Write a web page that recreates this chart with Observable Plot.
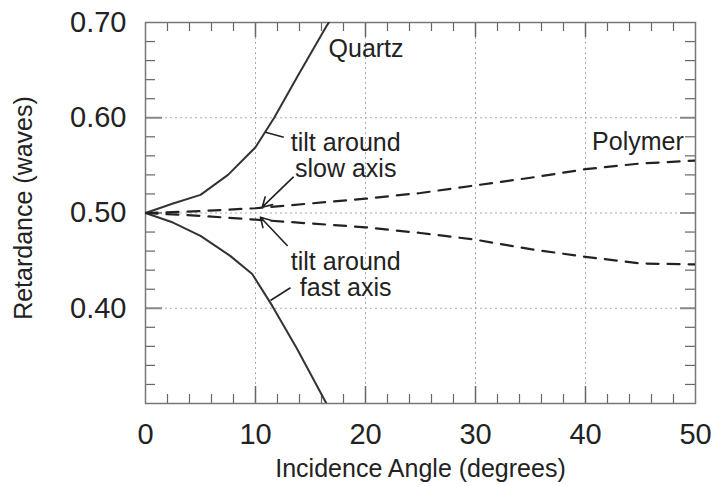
<!DOCTYPE html>
<html>
<head>
<meta charset="utf-8">
<script src="https://cdn.jsdelivr.net/npm/d3@7"></script>
<script src="https://cdn.jsdelivr.net/npm/@observablehq/plot@0.6"></script>
<style>
  html, body { margin: 0; padding: 0; background: #fff; }
  svg { display: block; }
</style>
</head>
<body>
<div id="chart"></div>
<script>
// ---- data ----
const quartzSlowAngle = [0, 2.5, 5, 7.5, 10, 11.7, 13.8, 16.5, 17];
const quartzSlowRet   = [0.500, 0.510, 0.519, 0.540, 0.569, 0.600, 0.643, 0.697, 0.706];
const quartzFastAngle = [0, 2.5, 5, 7.7, 9.7, 11.5, 13.8, 16.4, 16.8];
const quartzFastRet   = [0.500, 0.490, 0.476, 0.455, 0.436, 0.403, 0.357, 0.301, 0.294];
const polymerAngle    = [0, 5, 10, 15, 20, 25, 30, 35, 40, 45, 50];
const polymerSlowRet  = [0.500, 0.502, 0.505, 0.510, 0.515, 0.521, 0.529, 0.537, 0.546, 0.552, 0.555];
const polymerFastRet  = [0.500, 0.497, 0.493, 0.489, 0.485, 0.479, 0.472, 0.462, 0.454, 0.447, 0.446];

const xTicks = [0, 10, 20, 30, 40, 50];
const xMinorTicks = [2, 4, 6, 8, 12, 14, 16, 18, 22, 24, 26, 28, 32, 34, 36, 38, 42, 44, 46, 48];
const xGrid = [10, 20, 30, 40];
const yTicks = [0.40, 0.50, 0.60, 0.70];
const yTickLabels = ["0.40", "0.50", "0.60", "0.70"];
const yMinorTicks = [0.32, 0.34, 0.36, 0.38, 0.42, 0.44, 0.46, 0.48, 0.52, 0.54, 0.56, 0.58, 0.62, 0.64, 0.66, 0.68];
const yGrid = [0.40, 0.50, 0.60];

// single-line annotations (left-anchored, data coordinates)
const noteText  = ["Quartz", "Polymer"];
const noteAngle = [16.64, 40.6];
const noteRet   = [0.6717, 0.5743];

// two-line annotations (centred, data coordinates)
const blockText  = ["tilt around\nslow axis", "tilt around\nfast axis"];
const blockAngle = [18.2, 18.2];
const blockRet   = [0.5604, 0.4352];

const leaderX1 = [10.91, 13.18];
const leaderY1 = [0.5848, 0.4215];
const leaderX2 = [12.57, 11.36];
const leaderY2 = [0.5796, 0.4081];

const arrowX1 = [13.43, 12.88];
const arrowY1 = [0.5376, 0.4659];
const arrowX2 = [10.61, 10.45];
const arrowY2 = [0.5061, 0.4956];

// ---- build tables ----
const toRows = (xs, ys) => xs.map((x, i) => ({x, y: ys[i]}));
const qSlow = toRows(quartzSlowAngle, quartzSlowRet);
const qFast = toRows(quartzFastAngle, quartzFastRet);
const pSlow = toRows(polymerAngle, polymerSlowRet);
const pFast = toRows(polymerAngle, polymerFastRet);
const notes = noteText.map((t, i) => ({t, x: noteAngle[i], y: noteRet[i]}));
const blocks = blockText.map((t, i) => ({t, x: blockAngle[i], y: blockRet[i]}));
const leaders = leaderX1.map((d, i) => ({x1: d, y1: leaderY1[i], x2: leaderX2[i], y2: leaderY2[i]}));
const arrows = arrowX1.map((d, i) => ({x1: d, y1: arrowY1[i], x2: arrowX2[i], y2: arrowY2[i]}));

const W = 715, H = 486;
const mL = 145, mR = 20, mT = 22, mB = 83;
const innerW = W - mL - mR, innerH = H - mT - mB;
const font = "'Liberation Sans', Arial, Helvetica, sans-serif";
const ink = "#222";
const tickColor = "#666";

const chart = Plot.plot({
  width: W,
  height: H,
  marginLeft: mL,
  marginRight: mR,
  marginTop: mT,
  marginBottom: mB,
  style: {fontFamily: font, color: ink, background: "#fff"},
  x: {domain: [0, 50]},
  y: {domain: [0.30, 0.70]},
  marks: [
    // grid
    Plot.ruleX(xGrid, {stroke: "#aaa", strokeWidth: 1, strokeDasharray: "2,3"}),
    Plot.ruleY(yGrid, {stroke: "#aaa", strokeWidth: 1, strokeDasharray: "2,3"}),
    // minor ticks (bottom, top, left, right)
    Plot.ruleX(xMinorTicks, {stroke: tickColor, strokeWidth: 1.2, insetTop: innerH - 9}),
    Plot.ruleX(xMinorTicks, {stroke: tickColor, strokeWidth: 1.2, insetBottom: innerH - 9}),
    Plot.ruleY(yMinorTicks, {stroke: tickColor, strokeWidth: 1.2, insetRight: innerW - 10}),
    Plot.ruleY(yMinorTicks, {stroke: tickColor, strokeWidth: 1.2, insetLeft: innerW - 10}),
    // major ticks
    Plot.ruleX(xGrid, {stroke: tickColor, strokeWidth: 1.5, insetTop: innerH - 17}),
    Plot.ruleX(xGrid, {stroke: tickColor, strokeWidth: 1.5, insetBottom: innerH - 15}),
    Plot.ruleY(yGrid, {stroke: "#888", strokeWidth: 2, insetRight: innerW - 17}),
    Plot.ruleY(yGrid, {stroke: "#888", strokeWidth: 2, insetLeft: innerW - 15}),
    Plot.frame({stroke: "#777", strokeWidth: 1.5}),
    // curves
    Plot.line(qSlow, {x: "x", y: "y", stroke: "#333", strokeWidth: 2, clip: true}),
    Plot.line(qFast, {x: "x", y: "y", stroke: "#333", strokeWidth: 2, clip: true}),
    Plot.line(pSlow, {x: "x", y: "y", stroke: "#222", strokeWidth: 2.2, strokeDasharray: "12,9", clip: true}),
    Plot.line(pFast, {x: "x", y: "y", stroke: "#222", strokeWidth: 2.2, strokeDasharray: "12,9", clip: true}),
    // annotations
    Plot.link(leaders, {x1: "x1", y1: "y1", x2: "x2", y2: "y2", stroke: "#222", strokeWidth: 1.6}),
    Plot.arrow(arrows, {x1: "x1", y1: "y1", x2: "x2", y2: "y2", stroke: "#222", strokeWidth: 1.6, headLength: 10, bend: 0}),
    Plot.text(notes, {x: "x", y: "y", text: "t", textAnchor: "start", lineAnchor: "middle", fontSize: 25, fill: ink}),
    Plot.text(blocks, {x: "x", y: "y", text: "t", textAnchor: "middle", lineAnchor: "middle", lineHeight: 1.03, fontSize: 25, fill: ink}),
    // axes
    Plot.axisX({ticks: xTicks, tickSize: 0, tickPadding: 20, fontSize: 29, tickFormat: d => String(d), label: null, fill: ink}),
    Plot.axisY({ticks: yTicks, tickSize: 0, tickPadding: 19, fontSize: 29, tickFormat: d => yTickLabels[yTicks.indexOf(d)], label: null, fill: ink}),
    Plot.text(["Incidence Angle (degrees)"], {frameAnchor: "bottom", dy: 65, textAnchor: "middle", lineAnchor: "middle", fontSize: 25, fill: ink}),
    Plot.text(["Retardance (waves)"], {frameAnchor: "left", dx: -122, dy: -5, rotate: -90, textAnchor: "middle", lineAnchor: "middle", fontSize: 25, fill: ink})
  ]
});
document.getElementById("chart").appendChild(chart);
</script>
</body>
</html>
